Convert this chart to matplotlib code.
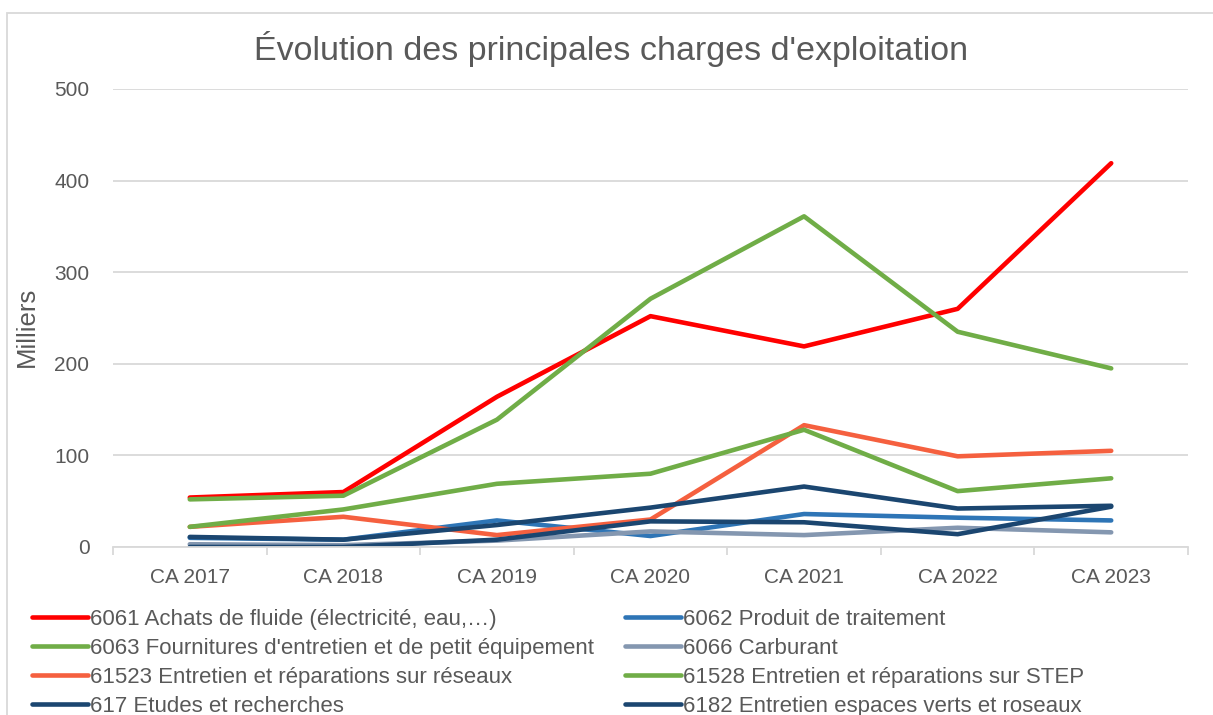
import matplotlib
matplotlib.use('Agg')
import matplotlib.pyplot as plt
from matplotlib.patches import Rectangle
from matplotlib.ticker import FixedLocator

categories = ['CA 2017', 'CA 2018', 'CA 2019', 'CA 2020', 'CA 2021', 'CA 2022', 'CA 2023']

s6061 = [54, 60, 164, 252, 219, 260, 419]
s6062 = [10, 8, 29, 12, 36, 32, 29]
s6063 = [52, 56, 139, 271, 361, 235, 195]
s6066 = [3, 2, 7, 17, 13, 21, 16]
s61523 = [22, 33, 13, 30, 133, 99, 105]
s61528 = [22, 41, 69, 80, 128, 61, 75]
s617 = [11, 8, 24, 43, 66, 42, 45]
s6182 = [0, 0, 8, 28, 27, 14, 44]

series = [
    ("6061 Achats de fluide (électricité, eau,…)", s6061, '#FF0000'),
    ("6062 Produit de traitement", s6062, '#2E75B6'),
    ("6063 Fournitures d'entretien et de petit équipement", s6063, '#70AD47'),
    ("6066 Carburant", s6066, '#8497B0'),
    ("61523 Entretien et réparations sur réseaux", s61523, '#F5603F'),
    ("61528 Entretien et réparations sur STEP", s61528, '#70AD47'),
    ("617 Etudes et recherches", s617, '#1B4670'),
    ("6182 Entretien espaces verts et roseaux", s6182, '#1B4670'),
]

plt.rcParams['font.family'] = ['Liberation Sans', 'DejaVu Sans']
TXT = '#595959'
GRID = '#D9D9D9'

W, H = 1213, 715
fig = plt.figure(figsize=(W / 100, H / 100), dpi=100)
ax = fig.add_axes([113 / W, 1 - 547 / H, (1188 - 113) / W, (547 - 89) / H])

x = list(range(len(categories)))
handles = []
for label, vals, col in series:
    ln, = ax.plot(x, vals, color=col, lw=3.3, solid_capstyle='round',
                  solid_joinstyle='round', label=label)
    handles.append(ln)

ax.set_xlim(-0.5, len(categories) - 0.5)
ax.set_ylim(0, 500)
ax.set_yticks([0, 100, 200, 300, 400, 500])
ax.yaxis.grid(True, color=GRID, lw=1.3)
ax.set_axisbelow(True)
for s in ['top', 'right', 'left']:
    ax.spines[s].set_visible(False)
ax.spines['bottom'].set_color(GRID)
ax.spines['bottom'].set_linewidth(1.3)

ax.set_xticks(x)
ax.set_xticklabels(categories)
ax.xaxis.set_minor_locator(FixedLocator([i - 0.5 for i in range(len(categories) + 1)]))
ax.tick_params(axis='x', which='major', length=0, pad=15, labelsize=15, labelcolor=TXT)
ax.tick_params(axis='x', which='minor', length=6, width=1.3, color=GRID)
ax.tick_params(axis='y', length=0, pad=17, labelsize=15, labelcolor=TXT)

fig.text(611 / W, 1 - 60 / H, "Évolution des principales charges d'exploitation",
         ha='center', va='baseline', fontsize=24.5, color=TXT)
fig.text(27 / W, 1 - 327 / H, 'Milliers', rotation=90, ha='center', va='center',
         fontsize=18.5, color=TXT)

# chart border
fig.patches.append(Rectangle((6.5 / W, -0.1), 1.2, 1 - 12.5 / H + 0.1,
                             transform=fig.transFigure, fill=False,
                             edgecolor=GRID, lw=1.3))

leg_kw = dict(frameon=False, fontsize=16, handlelength=2.5, handletextpad=0.12,
              labelspacing=0.36, borderaxespad=0, borderpad=0, labelcolor=TXT)
l1 = fig.legend(handles[0::2], [h.get_label() for h in handles[0::2]],
                loc='upper left', bbox_to_anchor=(32 / W, 1 - 609 / H), **leg_kw)
l2 = fig.legend(handles[1::2], [h.get_label() for h in handles[1::2]],
                loc='upper left', bbox_to_anchor=(625 / W, 1 - 609 / H), **leg_kw)

fig.savefig('out.png', dpi=100)
